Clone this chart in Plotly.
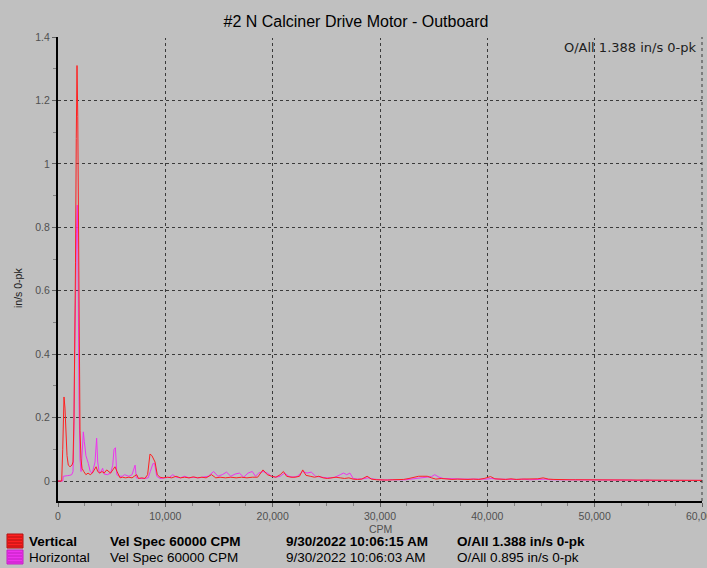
import plotly.graph_objects as go

# Vertical spectrum (red)
cpm_v = [0, 345, 440, 560, 650, 745, 840, 960, 1120, 1300, 1400, 1490, 1556, 1630, 1700,
         1740, 1770, 1840, 1890, 1990, 2050, 2140, 2240, 2400, 2600, 2800, 3000, 3200,
         3450, 3550, 3700, 3900, 4100, 4300, 4540, 4700, 4900, 5100, 5310, 5500, 5780,
         6000, 6300, 6600, 6900, 7100, 7330, 7500, 7800, 8100, 8350, 8570, 8750, 9040,
         9250, 9500, 9800,
         10200, 10600, 11000, 11400, 11800, 12200, 12600, 13000, 13400, 13800, 14300,
         14700, 15100, 15600, 16100, 16600, 17100, 17600, 18100, 18600, 19100, 19500,
         19900, 20300, 20700, 21000, 21300, 21700, 22100, 22500, 22800, 23100, 23500,
         23900, 24300, 24700, 25100, 25500, 25900, 26300, 26700, 27100, 27500, 27900,
         28300, 28800, 29200, 29700, 30200, 30700, 31200, 31700, 32200, 32700, 33200,
         33600, 34000, 34400, 34800, 35200, 35700, 36200, 36700, 37200, 37700, 38200,
         38700, 39200, 39700, 40300, 40700, 41200, 41700, 42200, 42700, 43200, 43700,
         44200, 44700, 45200, 45700, 46200, 46700, 47200, 47700, 48200, 48700, 49200,
         49700, 50200, 50700, 51200, 51700, 52200, 52700, 53200, 53700, 54200, 54700,
         55200, 55700, 56200, 56700, 57200, 57700, 58200, 58700, 59200, 59700, 60000]
amp_v = [0, 0.0, 0.10, 0.265, 0.23, 0.16, 0.08, 0.05, 0.045, 0.05, 0.06, 0.2, 0.37, 0.69, 1.08,
         1.27, 1.31, 1.15, 0.92, 0.44, 0.16, 0.07, 0.04, 0.03, 0.02, 0.025, 0.02, 0.025,
         0.04, 0.045, 0.03, 0.025, 0.03, 0.025, 0.035, 0.03, 0.025, 0.035, 0.045, 0.03, 0.01,
         0.012, 0.01, 0.012, 0.01, 0.015, 0.02, 0.008, 0.01, 0.008, 0.02, 0.085, 0.08, 0.06,
         0.02, 0.012, 0.01,
         0.012, 0.01, 0.015, 0.01, 0.012, 0.01, 0.013, 0.01, 0.012, 0.01, 0.02,
         0.01, 0.012, 0.01, 0.012, 0.01, 0.012, 0.01, 0.012, 0.012, 0.035, 0.02,
         0.015, 0.012, 0.02, 0.03, 0.015, 0.012, 0.012, 0.015, 0.035, 0.018, 0.015,
         0.012, 0.015, 0.01, 0.008, 0.01, 0.012, 0.01, 0.008, 0.01, 0.006, 0.005,
         0.006, 0.015, 0.006, 0.004, 0.003, 0.003, 0.004, 0.004, 0.005, 0.008, 0.012,
         0.015, 0.015, 0.015, 0.01, 0.006, 0.008, 0.006, 0.005, 0.006, 0.005, 0.005,
         0.006, 0.005, 0.008, 0.014, 0.007, 0.006, 0.005, 0.007, 0.005, 0.006, 0.006,
         0.005, 0.007, 0.01, 0.006, 0.005, 0.004, 0.005, 0.004, 0.004, 0.004, 0.003,
         0.004, 0.003, 0.004, 0.003, 0.003, 0.003, 0.004, 0.003, 0.003, 0.003, 0.003,
         0.003, 0.002, 0.003, 0.002, 0.002, 0.002, 0.002, 0.002, 0.002, 0.002, 0.002]

# Horizontal spectrum (magenta)
cpm_h = [0, 450, 495, 700, 900, 1100, 1280, 1400, 1480, 1540, 1630, 1720, 1800, 1860, 1960,
         2050, 2150, 2250, 2360, 2450, 2600, 2830, 3000, 3200, 3450, 3600, 3700, 3850,
         4000, 4160, 4300, 4600, 4900, 5100, 5220, 5350, 5480, 5700, 6000, 6200, 6600,
         6900, 7180, 7300, 7600, 8000, 8400, 8600, 8730, 8850, 9000, 9200, 9500, 9800,
         10000, 10400, 10700, 11000, 11400, 11800, 12200, 12700, 13100, 13600, 14000,
         14500, 14900, 15300, 15700, 16100, 16500, 16900, 17300, 17700, 18100, 18400,
         18700, 19100, 19500, 19900, 20300, 20700, 21100, 21500, 21900, 22300, 22800,
         23200, 23600, 24000, 24500, 25000, 25400, 25800, 26300, 26600, 26900, 27200,
         27500, 27900, 28400, 28900, 29400, 29900, 30400, 30900, 31400, 31900, 32400,
         32900, 33400, 33900, 34400, 34800, 35100, 35500, 35900, 36400, 36900, 37400,
         37900, 38400, 38900, 39400, 39900, 40400, 40900, 41400, 41900, 42400, 42900,
         43400, 43900, 44400, 44900, 45400, 45900, 46400, 46900, 47400, 47900, 48400,
         48900, 49400, 49900, 50400, 50900, 51400, 51900, 52400, 52900, 53400, 53900,
         54400, 54900, 55400, 55900, 56400, 56900, 57400, 57900, 58400, 58900, 59400, 60000]
amp_h = [0, 0.0, 0.015, 0.017, 0.017, 0.018, 0.02, 0.03, 0.15, 0.35, 0.69, 0.78, 0.87, 0.73, 0.25,
         0.07, 0.03, 0.1, 0.155, 0.125, 0.08, 0.055, 0.03, 0.025, 0.06, 0.135, 0.06, 0.025,
         0.03, 0.04, 0.022, 0.02, 0.025, 0.05, 0.1, 0.105, 0.02, 0.015, 0.015, 0.02, 0.015,
         0.02, 0.05, 0.01, 0.008, 0.008, 0.01, 0.03, 0.04, 0.055, 0.055, 0.015, 0.008, 0.01,
         0.01, 0.012, 0.02, 0.012, 0.01, 0.015, 0.01, 0.012, 0.01, 0.012, 0.015,
         0.03, 0.015, 0.02, 0.028, 0.015, 0.022, 0.025, 0.012, 0.025, 0.03, 0.015,
         0.025, 0.03, 0.025, 0.015, 0.012, 0.015, 0.025, 0.015, 0.012, 0.015, 0.03,
         0.025, 0.028, 0.015, 0.012, 0.01, 0.01, 0.012, 0.02, 0.025, 0.02, 0.025,
         0.008, 0.006, 0.007, 0.01, 0.006, 0.004, 0.003, 0.004, 0.003, 0.004, 0.004,
         0.006, 0.008, 0.01, 0.012, 0.014, 0.02, 0.012, 0.008, 0.007, 0.006, 0.007,
         0.006, 0.006, 0.005, 0.006, 0.006, 0.008, 0.006, 0.005, 0.006, 0.005, 0.005,
         0.006, 0.004, 0.005, 0.005, 0.006, 0.004, 0.004, 0.005, 0.003, 0.004, 0.003,
         0.004, 0.003, 0.003, 0.004, 0.003, 0.003, 0.003, 0.004, 0.004, 0.003, 0.002,
         0.003, 0.003, 0.002, 0.003, 0.002, 0.002, 0.002, 0.002, 0.002, 0.002, 0.002, 0.002]

legend_rows = [
    ("Vertical", "Vel Spec 60000 CPM", "9/30/2022 10:06:15 AM", "O/All 1.388 in/s 0-pk", "#ff2020", "#b01010", True),
    ("Horizontal", "Vel Spec 60000 CPM", "9/30/2022 10:06:03 AM", "O/All 0.895 in/s 0-pk", "#ee33ee", "#c020c0", False),
]

W, H = 707, 568
L, R, T, B = 58, 702, 37, 501  # plot area in pixels


def px_x(p):
    return (p - L) / (R - L)


def px_y(p):
    return (B - p) / (B - T)


fig = go.Figure()
fig.add_trace(go.Scatter(x=cpm_h, y=amp_h, mode="lines",
                         line=dict(color="#ee33ee", width=1), showlegend=False))
fig.add_trace(go.Scatter(x=cpm_v, y=amp_v, mode="lines",
                         line=dict(color="#ff2020", width=1), showlegend=False))

grid = dict(showgrid=True, gridcolor="#3a3a3a", gridwidth=1, griddash="dot", zeroline=False,
            automargin=False, showline=True, linecolor="black", linewidth=2,
            ticks="outside", ticklen=4, tickcolor="#606060",
            tickfont=dict(family="Arial", size=10.5, color="#505050"))
fig.update_xaxes(range=[0, 60000], dtick=10000, tickformat=",d", ticklabeloverflow="allow", **grid,
                 minor=dict(dtick=2500, ticks="outside", ticklen=3, tickcolor="#808080", showgrid=False))
fig.update_yaxes(range=[-0.063, 1.4], dtick=0.2, **grid,
                 minor=dict(dtick=0.1, ticks="outside", ticklen=3, tickcolor="#808080", showgrid=False))

# gridline at the right edge, and hide the one on the top edge
fig.add_shape(type="line", xref="paper", yref="paper", x0=1, x1=1, y0=0, y1=1,
              line=dict(color="#3a3a3a", width=1, dash="dot"))
fig.add_shape(type="line", xref="paper", yref="paper", x0=0.004, x1=0.998, y0=1, y1=1,
              line=dict(color="#c0c0c0", width=2))

annotations = [
    dict(text="O/All 1.388 in/s 0-pk", xref="paper", yref="paper", x=px_x(699), y=px_y(47),
         xanchor="right", yanchor="middle", showarrow=False,
         font=dict(family="DejaVu Sans", size=13, color="#202020")),
    dict(text="CPM", xref="paper", yref="paper", x=px_x(380), y=px_y(529),
         xanchor="center", yanchor="middle", showarrow=False,
         font=dict(family="Arial", size=10.5, color="#505050")),
    dict(text="in/s 0-pk", xref="paper", yref="paper", x=px_x(18), y=px_y(288),
         xanchor="center", yanchor="middle", showarrow=False, textangle=-90,
         font=dict(family="Arial", size=10.5, color="#202020")),
]
for i, (name, spec, stamp, overall, color, stripe, bold) in enumerate(legend_rows):
    yc = 541 + i * 16
    for x0, txt in [(27, name), (108, spec), (284, stamp), (455, overall)]:
        annotations.append(dict(
            text=f"<b>{txt}</b>" if bold else txt, xref="paper", yref="paper",
            x=px_x(x0), y=px_y(yc), xanchor="left", yanchor="middle",
            showarrow=False, font=dict(family="Arial", size=13.5, color="black")))
    # striped swatch
    top, bot = yc - 7, yc + 7
    fig.add_shape(type="rect", xref="paper", yref="paper",
                  x0=px_x(7), x1=px_x(23), y0=px_y(bot), y1=px_y(top),
                  fillcolor=color, line=dict(color=stripe, width=1))
    for k in range(top + 3, bot, 3):
        fig.add_shape(type="line", xref="paper", yref="paper",
                      x0=px_x(8), x1=px_x(22), y0=px_y(k), y1=px_y(k),
                      line=dict(color=stripe, width=1))

fig.update_layout(
    width=W, height=H,
    paper_bgcolor="#c0c0c0", plot_bgcolor="#c0c0c0",
    margin=dict(l=L, r=W - R, t=T, b=H - B),
    title=dict(text="#2 N Calciner Drive Motor - Outboard", x=356 / W, xanchor="center",
               y=1 - 21 / H, yanchor="middle",
               font=dict(family="Arial", size=16, color="black")),
    annotations=annotations,
)

fig.write_html("out.html", config={"displayModeBar": False},
               post_script="document.body.style.margin='0';document.body.style.overflow='hidden';")
